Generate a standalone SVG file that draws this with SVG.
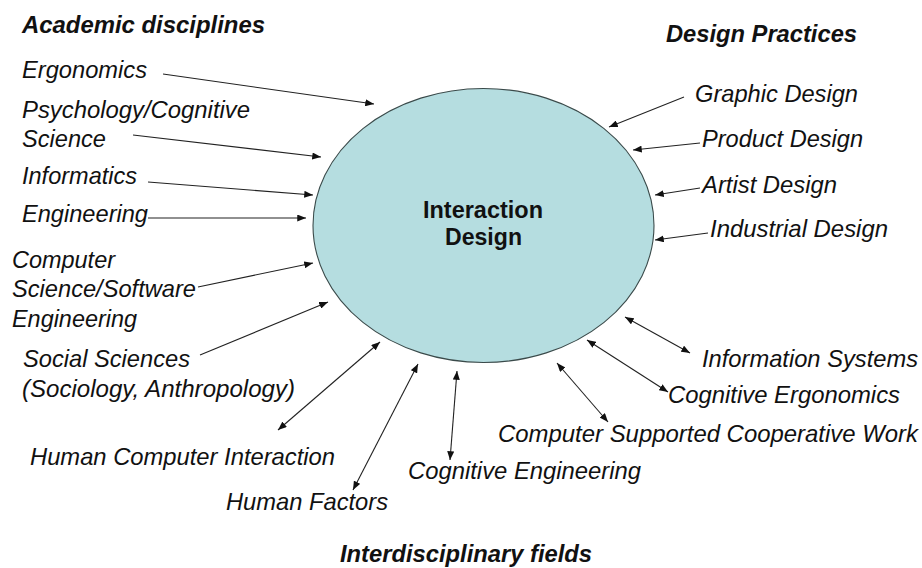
<svg xmlns="http://www.w3.org/2000/svg" width="922" height="568" viewBox="0 0 922 568">
<defs>
<marker id="ah" viewBox="0 0 10 8" refX="10" refY="4" markerWidth="9" markerHeight="7" markerUnits="userSpaceOnUse" orient="auto-start-reverse">
<path d="M0,0 L10,4 L0,8 z" fill="#111"/>
</marker>
<style>
.lbl{font-family:"Liberation Sans",Arial,sans-serif;font-style:italic;font-size:24px;fill:#111}
.hd{font-family:"Liberation Sans",Arial,sans-serif;font-style:italic;font-weight:bold;font-size:23px;fill:#111}
.ctr{font-family:"Liberation Sans",Arial,sans-serif;font-weight:bold;font-size:23.5px;fill:#111}
.c{stroke:#222;stroke-width:1.1;fill:none;marker-end:url(#ah)}
.b{stroke:#222;stroke-width:1.1;fill:none;marker-end:url(#ah);marker-start:url(#ah)}
</style>
</defs>
<rect width="922" height="568" fill="#fff"/>
<g id="center">
<ellipse cx="483.5" cy="225.5" rx="170.5" ry="137" fill="#b5dde0" stroke="#3a4a4a" stroke-width="1.1"/>
<text class="ctr" x="423" y="218" textLength="120" lengthAdjust="spacingAndGlyphs">Interaction</text>
<text class="ctr" x="445" y="245" textLength="77" lengthAdjust="spacingAndGlyphs">Design</text>
</g>
<g id="headings">
<text class="hd" x="22" y="33" textLength="243" lengthAdjust="spacingAndGlyphs">Academic disciplines</text>
<text class="hd" x="666" y="42" textLength="191" lengthAdjust="spacingAndGlyphs">Design Practices</text>
<text class="hd" x="340" y="562" textLength="252" lengthAdjust="spacingAndGlyphs">Interdisciplinary fields</text>
</g>
<g id="academic">
<text class="lbl" x="22" y="78" textLength="125" lengthAdjust="spacingAndGlyphs">Ergonomics</text>
<text class="lbl" x="22" y="118" textLength="228" lengthAdjust="spacingAndGlyphs">Psychology/Cognitive</text>
<text class="lbl" x="22" y="147" textLength="84" lengthAdjust="spacingAndGlyphs">Science</text>
<text class="lbl" x="22" y="184" textLength="115" lengthAdjust="spacingAndGlyphs">Informatics</text>
<text class="lbl" x="22" y="222" textLength="126" lengthAdjust="spacingAndGlyphs">Engineering</text>
<text class="lbl" x="12" y="268" textLength="103" lengthAdjust="spacingAndGlyphs">Computer</text>
<text class="lbl" x="12" y="297" textLength="184" lengthAdjust="spacingAndGlyphs">Science/Software</text>
<text class="lbl" x="12" y="327" textLength="125" lengthAdjust="spacingAndGlyphs">Engineering</text>
<text class="lbl" x="23" y="367" textLength="167" lengthAdjust="spacingAndGlyphs">Social Sciences</text>
<text class="lbl" x="22" y="397" textLength="273" lengthAdjust="spacingAndGlyphs">(Sociology, Anthropology)</text>
</g>
<g id="interdisciplinary">
<text class="lbl" x="30" y="465" textLength="305" lengthAdjust="spacingAndGlyphs">Human Computer Interaction</text>
<text class="lbl" x="226" y="510" textLength="162" lengthAdjust="spacingAndGlyphs">Human Factors</text>
<text class="lbl" x="408" y="479" textLength="233" lengthAdjust="spacingAndGlyphs">Cognitive Engineering</text>
<text class="lbl" x="498" y="442" textLength="420" lengthAdjust="spacingAndGlyphs">Computer Supported Cooperative Work</text>
<text class="lbl" x="668" y="403" textLength="232" lengthAdjust="spacingAndGlyphs">Cognitive Ergonomics</text>
<text class="lbl" x="702" y="367" textLength="216" lengthAdjust="spacingAndGlyphs">Information Systems</text>
</g>
<g id="design">
<text class="lbl" x="695" y="102" textLength="163" lengthAdjust="spacingAndGlyphs">Graphic Design</text>
<text class="lbl" x="702" y="147" textLength="161" lengthAdjust="spacingAndGlyphs">Product Design</text>
<text class="lbl" x="702" y="193" textLength="135" lengthAdjust="spacingAndGlyphs">Artist Design</text>
<text class="lbl" x="710" y="237" textLength="178" lengthAdjust="spacingAndGlyphs">Industrial Design</text>
</g>
<g id="connectors">
<line class="c" x1="163" y1="74" x2="374" y2="104"/>
<line class="c" x1="133" y1="135" x2="321" y2="157"/>
<line class="c" x1="148" y1="182" x2="313" y2="195"/>
<line class="c" x1="148" y1="218" x2="306" y2="218"/>
<line class="c" x1="198" y1="287" x2="313" y2="263"/>
<line class="c" x1="200" y1="355" x2="328" y2="302"/>
<line class="b" x1="380" y1="342" x2="278" y2="430"/>
<line class="b" x1="418" y1="364" x2="353" y2="490"/>
<line class="b" x1="457" y1="371" x2="450" y2="460"/>
<line class="b" x1="557" y1="363" x2="608" y2="422"/>
<line class="b" x1="587" y1="340" x2="668" y2="392"/>
<line class="b" x1="625" y1="317" x2="690" y2="353"/>
<line class="c" x1="684" y1="97" x2="609" y2="127"/>
<line class="c" x1="700" y1="143" x2="633" y2="150"/>
<line class="c" x1="700" y1="188" x2="655" y2="195"/>
<line class="c" x1="708" y1="233" x2="655" y2="240"/>
</g>
</svg>
